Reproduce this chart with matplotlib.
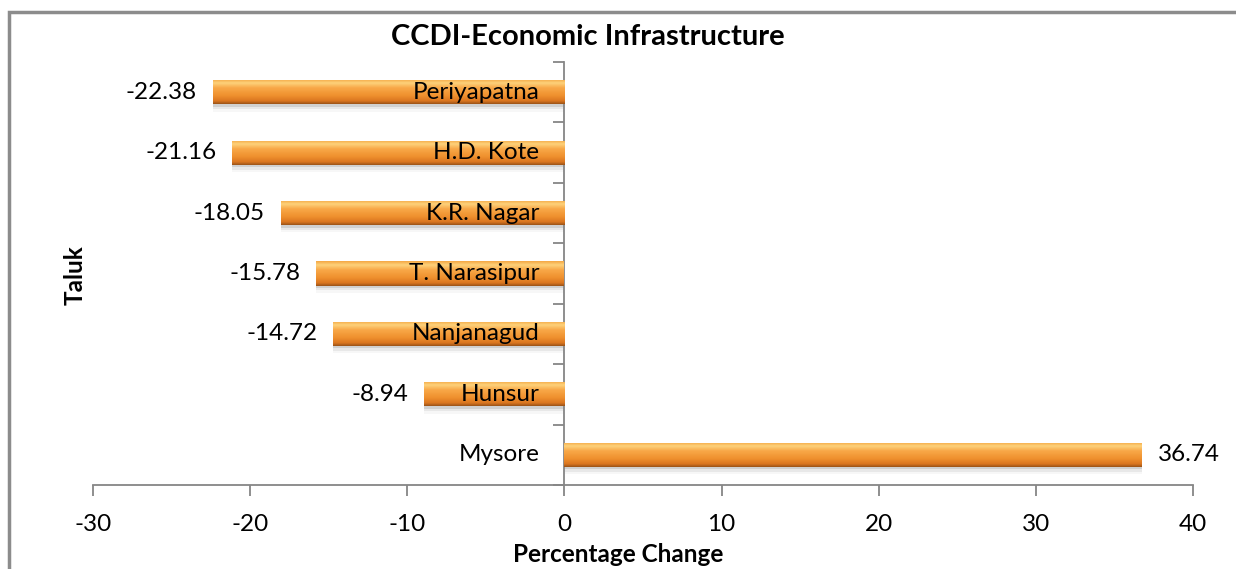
import numpy as np
import matplotlib
matplotlib.use("Agg")
import matplotlib.pyplot as plt
from matplotlib.colors import LinearSegmentedColormap
from matplotlib.patches import Rectangle
from matplotlib.lines import Line2D

categories = ["Mysore", "Hunsur", "Nanjanagud", "T. Narasipur", "K.R. Nagar", "H.D. Kote", "Periyapatna"]
values = [36.74, -8.94, -14.72, -15.78, -18.05, -21.16, -22.38]
xticks = [-30, -20, -10, 0, 10, 20, 30, 40]

plt.rcParams['font.family'] = ['Lato', 'DejaVu Sans']
FS = 17.5

fig = plt.figure(figsize=(12.36, 5.69), dpi=100)
ax = fig.add_axes([93/1236, 1-485/569, 1100/1236, 423/569])

grad = LinearSegmentedColormap.from_list("bar", [
    (0.0, "#F5A845"), (0.15, "#FDD27A"), (0.35, "#F8A848"),
    (0.65, "#F0922F"), (0.88, "#DB7620"), (1.0, "#9C5418")])
img = np.linspace(0, 1, 64).reshape(-1, 1)

ypos = np.arange(len(categories))
h = 0.40
bars = ax.barh(ypos, values, height=h, color="#F0962F", edgecolor="none", zorder=3)
for b in bars:
    x0, y0, w, hh = b.get_x(), b.get_y(), b.get_width(), b.get_height()
    for k, a in [(0.04, 0.10), (0.08, 0.06), (0.12, 0.03)]:
        sh = Rectangle((x0, y0 - k), w, hh, facecolor="#000000", alpha=a,
                       edgecolor="none", zorder=2)
        ax.add_patch(sh)
    im = ax.imshow(img, cmap=grad, aspect="auto", extent=(x0, x0 + w, y0, y0 + hh),
                   origin="upper", zorder=4)
    im.set_clip_path(b)

for y, v, c in zip(ypos, values, categories):
    ax.text(-1.6, y, c, ha="right", va="center", fontsize=FS, color="black", zorder=5)
    if v < 0:
        ax.text(v - 1.0, y, f"{v:.2f}", ha="right", va="center", fontsize=FS, color="black")
    else:
        ax.text(v + 1.0, y, f"{v:.2f}", ha="left", va="center", fontsize=FS, color="black")

ax.set_xlim(-30, 40)
ax.set_ylim(-0.5, len(categories) - 0.5)
ax.set_xticks(xticks)
ax.set_xticklabels([str(t) for t in xticks], fontsize=FS)
ax.set_yticks(np.arange(-0.5, len(categories), 1.0))
ax.set_yticklabels([])
ax.spines['top'].set_visible(False)
ax.spines['right'].set_visible(False)
ax.spines['left'].set_position(('data', 0))
for s in ['left', 'bottom']:
    ax.spines[s].set_color("#868686")
    ax.spines[s].set_linewidth(1.3)
ax.tick_params(axis='x', direction='out', length=8, width=1.3, color="#868686", pad=13)
ax.tick_params(axis='y', direction='out', length=8, width=1.3, color="#868686")
ax.set_facecolor("none")

fig.text(588/1236, 1-37/569, "CCDI-Economic Infrastructure", ha="center", va="center",
         fontsize=21, fontweight="bold")
fig.text(75/1236, 1-275/569, "Taluk", ha="center", va="center", rotation=90,
         fontsize=17.5, fontweight="bold")
fig.text(618/1236, 1-555/569, "Percentage Change", ha="center", va="center",
         fontsize=17.5, fontweight="bold")

bx, by = 8.5/1236, 1 - 11.5/569
fig.add_artist(Line2D([bx, bx, 1.05], [-0.05, by, by], transform=fig.transFigure,
                      color="#8C8C8C", linewidth=2.5, solid_joinstyle="miter"))

fig.savefig("out.png", dpi=100, facecolor="white")
